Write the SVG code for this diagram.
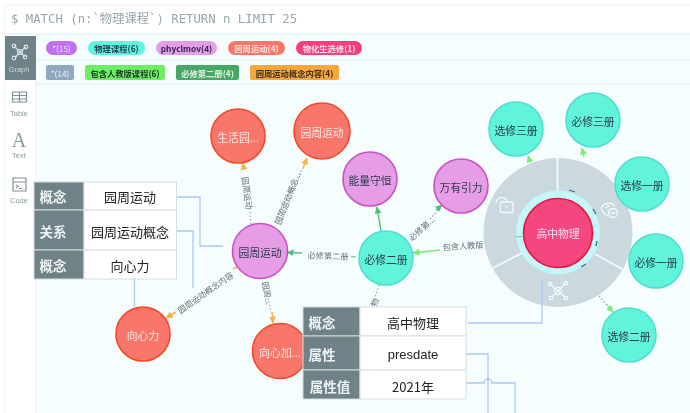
<svg xmlns="http://www.w3.org/2000/svg" width="690" height="413" viewBox="0 0 690 413">
<style>
text{font-family:"Noto Sans CJK SC","Noto Sans",sans-serif;text-anchor:middle;dominant-baseline:central}
.n{stroke-width:1.6}
.red{fill:#f9766a;stroke:#f5492a}.pur{fill:#e69de6;stroke:#c653c6}.cy{fill:#60f5da;stroke:#4fdfd0}
.nt{font-size:10.800px}.w{fill:#fde9e6}.d{fill:#2c3a50}
.pill{font-size:8.300px;font-weight:700}
.el{font-size:8.200px;fill:#5f6f78}
.e{fill:none;stroke-width:1.500}
.o{stroke:#f9b04a}.g{stroke:#55c07a}.lg{stroke:#7cec70}
.dot{stroke-dasharray:1.5 2;stroke:#9aa6ac;stroke-width:1.2;fill:none}
.bl{fill:none;stroke:#a9c8f5;stroke-width:1.3}
.th{fill:#6e8288;stroke:#cfdcdf}.td{fill:#fff;stroke:#d5dee0}
.tht{font-size:13.500px;font-weight:700;fill:#eef3f3}.tdt{font-size:13px;fill:#222}
.side{font-size:7.500px;fill:#8a9aa0;font-family:"Liberation Sans",sans-serif}
.ic{fill:none;stroke:#7f9298;stroke-width:1.2}
.ring{fill:none;stroke:#f4fbfc;stroke-width:1.3}
</style>
<defs>
<filter id="soft" x="0" y="0" width="100%" height="100%"><feGaussianBlur stdDeviation="0.4"/></filter>
<marker id="ao" markerUnits="userSpaceOnUse" markerWidth="8" markerHeight="8" refX="6.500" refY="3.500" orient="auto"><path d="M0 0L7 3.500L0 7z" fill="#f9b04a"/></marker>
<marker id="ag" markerUnits="userSpaceOnUse" markerWidth="8" markerHeight="8" refX="6.500" refY="3.500" orient="auto"><path d="M0 0L7 3.500L0 7z" fill="#55c07a"/></marker>
<marker id="al" markerUnits="userSpaceOnUse" markerWidth="8" markerHeight="8" refX="6.500" refY="3.500" orient="auto"><path d="M0 0L7 3.500L0 7z" fill="#7cec70"/></marker>
</defs>
<g filter="url(#soft)">
<rect width="690" height="413" fill="#fff"/>
<path d="M5 5H690" stroke="#eef3f5"/><path d="M4.500 5V413" stroke="#eef3f5"/>
<rect x="36" y="34" width="654" height="379" fill="#f6fdff"/>
<path d="M5 34H690M36 60H690M36 84H690" stroke="#e0eff6" stroke-width="1.2"/>
<path d="M35.500 80V413" stroke="#eaf3f8"/>
<text x="11" y="19" style="font-family:'DejaVu Sans Mono','Noto Sans CJK SC',monospace;font-size:12.300px;text-anchor:start" fill="#98a6ad">$ MATCH (n:`物理课程`) RETURN n LIMIT 25</text>

<g id="sidebar">
<rect x="5" y="36" width="31" height="44" fill="#6e8288"/>
<g fill="none" stroke="#d8e2e4" stroke-width="1.2"><path d="M20 52L14 46M20 52L26 47M20 52L15 58M20 52L25 57"/><circle cx="20" cy="52" r="2.500"/><circle cx="14" cy="46" r="1.800"/><circle cx="26" cy="47" r="1.800"/><circle cx="14" cy="58" r="1.800"/><circle cx="25" cy="57" r="1.800"/></g>
<text class="side" x="19" y="69" style="fill:#cbd6d9">Graph</text>
<path class="ic" d="M12.500 92H26.500V102H12.500zM12.500 95.500H26.500M12.500 99H26.500M19.500 92V102"/>
<text class="side" x="19" y="113">Table</text>
<text x="19" y="140" style="font-family:'Liberation Serif',serif;font-size:20px" fill="#8a9aa0">A</text>
<text class="side" x="19" y="155">Text</text>
<path class="ic" d="M13 178H26V191H13zM13 182H26M16 185L18 186.500L16 188M19 188.500H22"/>
<text class="side" x="19" y="200">Code</text>
</g>

<g id="legend">
<rect x="46" y="41" width="31" height="14" rx="7" fill="#c06ff0"/><text class="pill" x="61.500" y="48" fill="#f0e0fa" style="font-weight:400">*(15)</text>
<rect x="88" y="41" width="57" height="14" rx="7" fill="#5ff5dc"/><text class="pill" x="116.500" y="48" fill="#24405a">物理课程(6)</text>
<rect x="156" y="41" width="61" height="14" rx="7" fill="#e49ee8"/><text class="pill" x="186.500" y="48" fill="#33264f">phyclmov(4)</text>
<rect x="228" y="41" width="57" height="14" rx="7" fill="#f9766a"/><text class="pill" x="256.500" y="48" fill="#fde0da">园周运动(4)</text>
<rect x="296" y="41" width="66" height="14" rx="7" fill="#f5407c"/><text class="pill" x="329" y="48" fill="#fde0ea">物化生选修(1)</text>
<rect x="46" y="65" width="28" height="15" rx="2" fill="#90a8bc"/><text class="pill" x="60" y="72.500" fill="#e8f0f5" style="font-weight:400">*(14)</text>
<rect x="85" y="65" width="80" height="15" rx="2" fill="#6cef63"/><text class="pill" x="125" y="72.500" fill="#1f3a28">包含人教版课程(6)</text>
<rect x="176" y="65" width="63" height="15" rx="2" fill="#47a866"/><text class="pill" x="207.500" y="72.500" fill="#e0f2e6">必修第二册(4)</text>
<rect x="250" y="65" width="89" height="15" rx="2" fill="#f7a83a"/><text class="pill" x="294.500" y="72.500" fill="#3f3018">园周运动概念内容(4)</text>
</g>

<g id="connectors">
<path class="dot" d="M251 224L250 212"/>
<path class="e o" marker-end="url(#ao)" d="M244 170L243 163"/>
<path class="dot" d="M276 218L303 168"/>
<path class="e o" marker-end="url(#ao)" d="M303 168L307 158"/>
<path class="e o" marker-end="url(#ao)" d="M176 312L166 318"/>
<path class="e o" d="M237 267L233 269"/>
<path class="dot" d="M268 298L271 312"/>
<path class="e o" marker-end="url(#ao)" d="M272 312L273 323"/>
<path class="e g" marker-end="url(#ag)" d="M302 253L287 252.500"/>
<path class="e g" style="stroke:#7fd89a" d="M356 257L351 256.500"/>
<path class="e g" marker-end="url(#ag)" d="M381 231L377 207"/>
<path class="dot" d="M430 219L441 207"/>
<path class="e g" marker-end="url(#ag)" d="M436 210L442 205"/>
<path class="e lg" marker-end="url(#al)" d="M440 250L413 253"/>
<path class="dot" d="M379 285L375 297"/>
<path class="e lg" marker-end="url(#al)" d="M530 162L528 156"/>
<path class="e lg" marker-end="url(#al)" d="M584 157L582 148"/>
<path class="dot" d="M599 296L607 305"/>
<path class="e lg" marker-end="url(#al)" d="M607 305L613 312"/>
<text class="el" transform="translate(248 193) rotate(82)">园周运动</text>
<text class="el" transform="translate(287 198) rotate(-68)">园周运动概念...</text>
<text class="el" transform="translate(205 292) rotate(-35)">园周运动概念内容</text>
<text class="el" transform="translate(268 293) rotate(80)">园周...</text>
<text class="el" transform="translate(328 255) rotate(2)">必修第二册</text>
<text class="el" transform="translate(421 228) rotate(-42)">必修第...</text>
<text class="el" transform="translate(463 245) rotate(-4)">包含人教版</text>
<text class="el" transform="translate(374 302) rotate(-72)">物</text>
</g>

<g id="menu">
<circle cx="558" cy="232.500" r="74.500" fill="#cbd8de"/>
<path d="M557.500 158V192M493 268L522 253M595 254L622 269" stroke="#f4fbfc" stroke-width="1.800"/>
<g class="ring"><path d="M496 204A6 6.500 0 0 1 507.500 201.500"/><rect x="500.500" y="202" width="12.500" height="10.500" rx="1"/><path d="M506.500 205.500V208.500"/>
<circle cx="613" cy="213" r="4.500"/><path d="M611 213H615M601 208C604 202 612 202 615 206M601 208C603 213 605 215 608 216M606 208A3 3 0 0 1 610 206"/>
<circle cx="558" cy="291" r="3.500"/><path d="M558 291L551 285M558 291L565 284M558 291L552 297M558 291L565 297"/><circle cx="550" cy="284" r="1.700"/><circle cx="566" cy="283" r="1.700"/><circle cx="551" cy="298" r="1.700"/><circle cx="566" cy="298" r="1.700"/></g>
<circle cx="558" cy="232.500" r="42" fill="#c4f7fa"/>
<path d="M516 237L522 236.500" stroke="#66d87a" stroke-width="1.200"/>
<path d="M569 190L575 192M593 209L596 214M597 241L596 246M581 267L586 264" stroke="#3c6e88" stroke-width="1.300"/>
</g>

<path class="bl" d="M177 197H200V246H223M177 231H193V288M134.500 279V307M468 323H542V279M466 354H488V413M466 383H484A4 4 0 0 1 492 383H515V413"/>

<g id="n-high"><circle class="n" cx="558" cy="233" r="34.500" fill="#f5477f" stroke="#e8183e"/><text class="nt" x="558" y="233" fill="#fde4ec">高中物理</text></g>
<g id="n-life"><circle class="n red" cx="238" cy="136" r="27"/><text class="nt w" x="238" y="137">生活园...</text></g>
<g id="n-circ1"><circle class="n red" cx="322" cy="131" r="28"/><text class="nt w" x="322" y="132">园周运动</text></g>
<g id="n-energy"><circle class="n pur" cx="370" cy="179" r="27"/><text class="nt d" x="370" y="180">能量守恒</text></g>
<g id="n-grav"><circle class="n pur" cx="461" cy="186" r="27"/><text class="nt d" x="461" y="187">万有引力</text></g>
<g id="n-x3"><circle class="n cy" cx="516" cy="129" r="27"/><text class="nt d" x="516" y="130">选修三册</text></g>
<g id="n-b3"><circle class="n cy" cx="593" cy="120" r="27"/><text class="nt d" x="593" y="121">必修三册</text></g>
<g id="n-x1"><circle class="n cy" cx="642" cy="184" r="27"/><text class="nt d" x="642" y="185">选修一册</text></g>
<g id="n-b1"><circle class="n cy" cx="656" cy="261" r="27"/><text class="nt d" x="656" y="262">必修一册</text></g>
<g id="n-x2"><circle class="n cy" cx="629" cy="335" r="27"/><text class="nt d" x="629" y="336">选修二册</text></g>
<g id="n-b2"><circle class="n cy" cx="386" cy="258" r="27"/><text class="nt d" x="386" y="259">必修二册</text></g>
<g id="n-circ2"><circle class="n pur" cx="260" cy="251" r="27.500"/><text class="nt d" x="260" y="252">园周运动</text></g>
<g id="n-cent"><circle class="n red" cx="143" cy="334" r="27"/><text class="nt w" x="143" y="335">向心力</text></g>
<g id="n-acc"><circle class="n red" cx="280" cy="351" r="27.500"/><text class="nt w" x="280" y="352">向心加...</text></g>

<g id="table-left">
<rect class="th" x="34" y="182" width="50" height="28"/><rect class="td" x="84" y="182" width="92.500" height="28"/>
<rect class="th" x="34" y="210" width="50" height="40"/><rect class="td" x="84" y="210" width="92.500" height="40"/>
<rect class="th" x="34" y="250" width="50" height="29"/><rect class="td" x="84" y="250" width="92.500" height="29"/>
<text class="tht" x="53" y="196">概念</text><text class="tdt" x="130" y="196">园周运动</text>
<text class="tht" x="53" y="231">关系</text><text class="tdt" x="130" y="231">园周运动概念</text>
<text class="tht" x="53" y="265">概念</text><text class="tdt" x="130" y="265">向心力</text>
</g>
<g id="table-right">
<rect class="th" x="303" y="307" width="57" height="29"/><rect class="td" x="360" y="307" width="106" height="29"/>
<rect class="th" x="303" y="336" width="57" height="34"/><rect class="td" x="360" y="336" width="106" height="34"/>
<rect class="th" x="303" y="370" width="57" height="29"/><rect class="td" x="360" y="370" width="106" height="29"/>
<text class="tht" x="322" y="322">概念</text><text class="tdt" x="413" y="322">高中物理</text>
<text class="tht" x="322" y="354">属性</text><text class="tdt" x="413" y="354" style="font-family:'Liberation Sans',sans-serif">presdate</text>
<text class="tht" x="330" y="386">属性值</text><text class="tdt" x="413" y="386">2021年</text>
</g>
</g>
</svg>
